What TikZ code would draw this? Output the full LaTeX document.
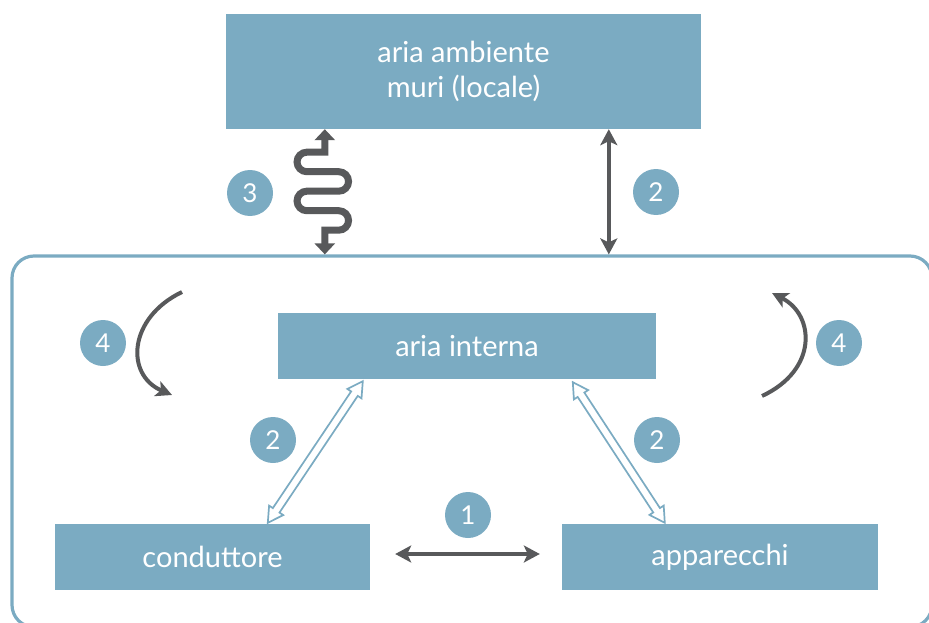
\documentclass[tikz,border=0pt]{standalone}
\usepackage{fontspec}
\setmainfont{Lato}
\usetikzlibrary{arrows.meta,calc,positioning}
\definecolor{boxblue}{HTML}{7BABC2}
\definecolor{dgray}{HTML}{58595B}
\newcommand{\headlen}{15pt}
\newcommand{\headw}{8.5pt}
\newcommand{\shaftw}{4pt}
\tikzset{
  blk/.style={fill=boxblue,text=white,font=\fontsize{29}{35}\selectfont,align=center,inner sep=0pt},
  badge/.style={circle,fill=boxblue,text=white,minimum size=46pt,inner sep=0pt,font=\fontsize{26}{30}\selectfont},
  frame/.style={draw=boxblue,line width=3.2pt,rounded corners=22pt,inner sep=0pt},
  garr/.style={draw=dgray,line width=4pt,{Stealth[length=16pt,width=17pt,inset=4pt]}-{Stealth[length=16pt,width=17pt,inset=4pt]}},
  warr/.style={draw=dgray,line width=7pt,{Triangle[length=11pt,width=20pt]}-{Triangle[length=11pt,width=20pt]}},
  carr/.style={draw=dgray,line width=4pt,-{Stealth[length=16pt,width=16pt,inset=4pt]}},
  hol/.style={draw=boxblue,line width=1.7pt,fill=white,line join=miter},
}
\newcommand{\hollowarr}[2]{%
  \coordinate (ha1) at ($(#1)!\headlen!(#2)$);
  \coordinate (ha2) at ($(#2)!\headlen!(#1)$);
  \draw[hol] (#1) -- ($(ha1)!\headw!90:(#2)$) -- ($(ha1)!\shaftw!90:(#2)$) -- ($(ha2)!\shaftw!-90:(#1)$) -- ($(ha2)!\headw!-90:(#1)$) -- (#2) -- ($(ha2)!\headw!90:(#1)$) -- ($(ha2)!\shaftw!90:(#1)$) -- ($(ha1)!\shaftw!-90:(#2)$) -- ($(ha1)!\headw!-90:(#2)$) -- cycle;}
\begin{document}
\begin{tikzpicture}[x=1pt,y=-1pt]
\clip (0,0) rectangle (929,623);
\useasboundingbox (0,0) rectangle (929,623);
\node[frame,minimum width=920pt,minimum height=371pt] (env) at (472,441.5) {};
\node[blk,minimum width=475pt,minimum height=115pt] (amb) at (463.5,71.5) {aria ambiente\\muri (locale)};
\node[blk,minimum width=378pt,minimum height=66pt] (ci) at (467,346) {aria interna};
\node[blk,minimum width=315pt,minimum height=66pt] (cond) at (212.5,557) {conduttore};
\node[blk,minimum width=316pt,minimum height=66pt] (app) at (720,557) {apparecchi};
% scambi con l'esterno
\coordinate (wtop) at ($(amb.south west)+(99,0)$);
\coordinate (vtop) at ($(amb.south west)+(383,0)$);
\draw[warr] (wtop) -- ++(0,23) -- ++(-18,0) arc[start angle=270,end angle=90,radius=9.75] -- ++(32,0) arc[start angle=-90,end angle=90,radius=9.75] -- ++(-32,0) arc[start angle=270,end angle=90,radius=9.75] -- ++(32,0) arc[start angle=-90,end angle=90,radius=9.75] -- ++(-14,0) -- (wtop |- env.north);
\draw[garr] (vtop) -- (vtop |- env.north);
\node[badge] (b3) at (250,193) {3};
\node[badge] (b2t) at (656,192) {2};
% ricircolo
\coordinate (l1) at (182,292); \coordinate (l2) at (172,395);
\coordinate (r1) at (762,396); \coordinate (r2) at (772,293);
\draw[carr] (l1) .. controls (128,318) and (125,375) .. (l2);
\draw[carr] (r1) .. controls (818,370) and (815,315) .. (r2);
\node[badge] (b4l) at (103,343) {4};
\node[badge] (b4r) at (839,343) {4};
% scambi interni
\coordinate (cl1) at ($(ci.south west)+(85,2)$);
\coordinate (cl2) at ($(cond.north west)+(213,-1)$);
\coordinate (cr1) at ($(ci.south west)+(295,3)$);
\coordinate (cr2) at ($(app.north west)+(103,-1)$);
\hollowarr{cl1}{cl2}
\hollowarr{cr1}{cr2}
\node[badge] (b2l) at (273,440) {2};
\node[badge] (b2r) at (657,440) {2};
\draw[garr,shorten <=25pt,shorten >=22pt] ([yshift=3pt]cond.east) -- ([yshift=3pt]app.west);
\node[badge] (b1) at (468,515) {1};
\end{tikzpicture}
\end{document}
